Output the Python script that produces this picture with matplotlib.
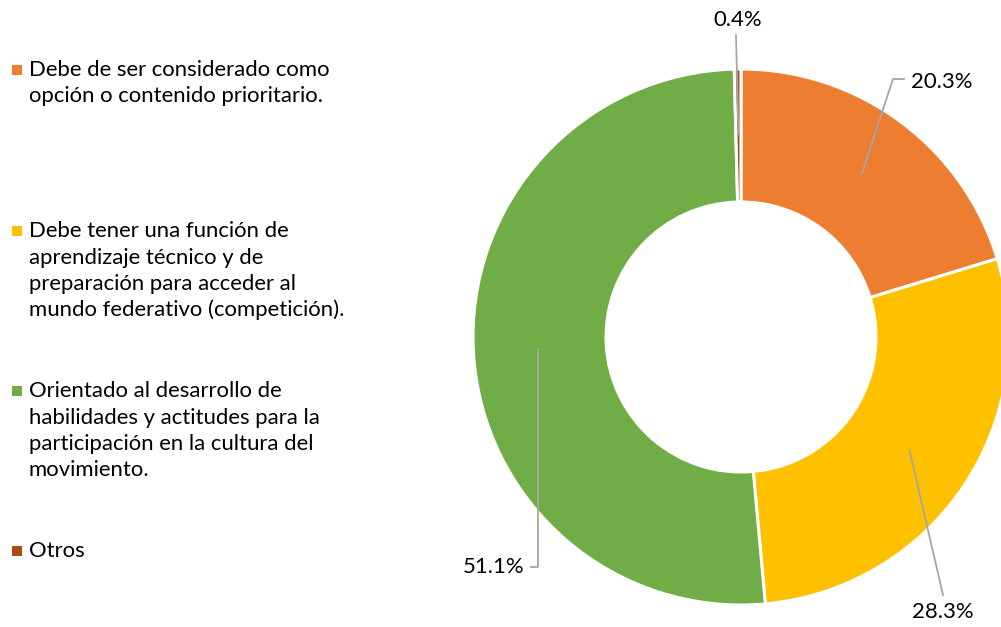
import numpy as np
import matplotlib.pyplot as plt

# Datos del gráfico
categorias = [
    "Debe de ser considerado como\nopción o contenido prioritario.",
    "Debe tener una función de\naprendizaje técnico y de\npreparación para acceder al\nmundo federativo (competición).",
    "Orientado al desarrollo de\nhabilidades y actitudes para la\nparticipación en la cultura del\nmovimiento.",
    "Otros",
]
porcentajes = [20.3, 28.3, 51.1, 0.4]
etiquetas = ["20.3%", "28.3%", "51.1%", "0.4%"]
colores = ["#ED7D31", "#FFC000", "#70AD47", "#AE4B14"]

W, H = 1001, 627
plt.rcParams['font.family'] = ['Lato', 'DejaVu Sans']
fs = 15.9

fig = plt.figure(figsize=(W / 100, H / 100), dpi=100)
ax = fig.add_axes([0, 0, 1, 1])

def fy(py):
    # de coordenadas de imagen (y hacia abajo) a datos
    return H - py

cx, cy = 741, fy(337)
r_out, r_in = 268, 135

ax.pie(porcentajes, colors=colores, startangle=90, counterclock=False,
       radius=r_out, center=(cx, cy),
       wedgeprops=dict(width=r_out - r_in, edgecolor='white', linewidth=2.2))
ax.set_xlim(0, W)
ax.set_ylim(0, H)
ax.set_aspect('equal')
ax.axis('off')

# puntos medios de cada sector para las líneas guía
fr = np.array(porcentajes) / sum(porcentajes)
inicio = np.concatenate([[0], np.cumsum(fr)[:-1]])
ang = np.deg2rad(90 - (inicio + fr / 2) * 360)
r_mid = 203
px = cx + r_mid * np.cos(ang)
py = cy + r_mid * np.sin(ang)

gris = '#A6A6A6'
# 20.3%
ax.plot([px[0], 893, 904], [py[0], fy(79), fy(79)], color=gris, lw=1.3)
ax.text(911, fy(82), etiquetas[0], fontsize=fs, ha='left', va='center')
# 28.3%
ax.plot([px[1], 943], [py[1], fy(595)], color=gris, lw=1.3)
ax.text(943, fy(612), etiquetas[1], fontsize=fs, ha='center', va='center')
# 51.1%
ax.plot([px[2], px[2], 531], [py[2], fy(567), fy(567)], color=gris, lw=1.3)
ax.text(524, fy(567), etiquetas[2], fontsize=fs, ha='right', va='center')
# 0.4%
ax.plot([px[3], 736], [py[3], fy(35)], color=gris, lw=1.3)
ax.text(738, fy(20), etiquetas[3], fontsize=fs, ha='center', va='center')

# leyenda a la izquierda
base = [76, 237, 397, 557]
paso = 26.5
for cat, col, b in zip(categorias, colores, base):
    ax.scatter(16.5, fy(b - 6), marker='s', s=42, color=col, linewidths=0)
    for i, linea in enumerate(cat.split('\n')):
        ax.text(29, fy(b + i * paso), linea, fontsize=fs, ha='left', va='baseline')

fig.savefig('out.png', dpi=100)
